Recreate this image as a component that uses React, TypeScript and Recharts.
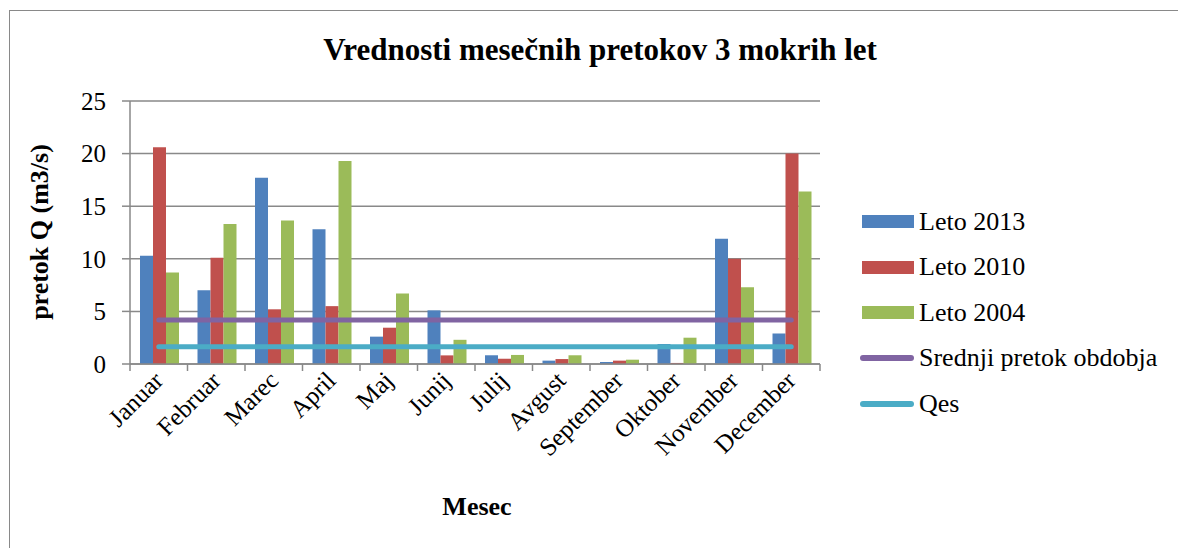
import React from "react";
import { ComposedChart, Bar, Line, XAxis, YAxis, CartesianGrid } from "recharts";

const months = ["Januar", "Februar", "Marec", "April", "Maj", "Junij", "Julij", "Avgust", "September", "Oktober", "November", "December"];
const leto2013 = [10.3, 7.0, 17.7, 12.8, 2.6, 5.1, 0.83, 0.32, 0.19, 1.9, 11.9, 2.9];
const leto2010 = [20.6, 10.1, 5.2, 5.5, 3.45, 0.82, 0.5, 0.47, 0.32, 0.1, 10.0, 20.0];
const leto2004 = [8.7, 13.3, 13.65, 19.3, 6.7, 2.3, 0.86, 0.83, 0.41, 2.5, 7.3, 16.4];
const srednjiPretok = 4.18;
const qes = 1.65;
const yTicks = [0, 5, 10, 15, 20, 25];

const seriesNames = ["Leto 2013", "Leto 2010", "Leto 2004", "Srednji pretok obdobja", "Qes"];
const seriesColors = ["#4F81BD", "#C0504D", "#9BBB59", "#8064A2", "#4BACC6"];
const seriesTypes = ["rect", "rect", "rect", "line", "line"];

const data = months.map((m, i) => ({
  month: m,
  l2013: leto2013[i],
  l2010: leto2010[i],
  l2004: leto2004[i],
  srednji: srednjiPretok,
  qes: qes,
}));

const FONT = '"Liberation Serif", "Times New Roman", serif';
const GRID = "#898989";

const XTick = (props: any) => {
  const { x, y, payload, index } = props;
  const off = payload.offset || 0;
  return (
    <g>
      <line x1={x - off} y1={y} x2={x - off} y2={y + 7} stroke={GRID} strokeWidth={1.5} />
      {index === months.length - 1 && (
        <line x1={x + off} y1={y} x2={x + off} y2={y + 7} stroke={GRID} strokeWidth={1.5} />
      )}
      <text
        x={x + 6}
        y={y + 18}
        transform={`rotate(-45 ${x + 6} ${y + 18})`}
        textAnchor="end"
        fontFamily={FONT}
        fontSize={25}
        fill="#000"
      >
        {payload.value}
      </text>
    </g>
  );
};

export default function App() {
  return (
    <div style={{ position: "absolute", left: 0, top: 0, width: 1178, height: 548, background: "#fff", overflow: "hidden" }}>
      <div style={{ position: "absolute", left: 9, top: 10, width: 1200, height: 600, borderLeft: `1.5px solid ${GRID}`, borderTop: `1.5px solid ${GRID}` }} />
      <div style={{ position: "absolute", left: 600, top: 32, transform: "translateX(-50%)", whiteSpace: "nowrap", fontFamily: FONT, fontWeight: "bold", fontSize: 31, lineHeight: "36px" }}>
        Vrednosti mesečnih pretokov 3 mokrih let
      </div>
      <ComposedChart
        width={1178}
        height={548}
        data={data}
        margin={{ top: 101, right: 358, bottom: 0, left: 70 }}
        barCategoryGap={10}
        barGap={0}
        style={{ position: "absolute", left: 0, top: 0 }}
      >
        <CartesianGrid vertical={false} stroke={GRID} strokeWidth={1.5} />
        <XAxis
          dataKey="month"
          interval={0}
          axisLine={{ stroke: GRID, strokeWidth: 1.5 }}
          tickLine={false}
          tickSize={0}
          tickMargin={0}
          tick={<XTick />}
          height={184}
        />
        <YAxis
          width={60}
          domain={[0, 25]}
          ticks={yTicks}
          interval={0}
          axisLine={{ stroke: GRID, strokeWidth: 1.5 }}
          tickLine={{ stroke: GRID, strokeWidth: 1.5 }}
          tickSize={8}
          tickMargin={16}
          tick={{ fontFamily: FONT, fontSize: 25, fill: "#000" }}
        />
        <Bar dataKey="l2013" name={seriesNames[0]} fill={seriesColors[0]} isAnimationActive={false} />
        <Bar dataKey="l2010" name={seriesNames[1]} fill={seriesColors[1]} isAnimationActive={false} />
        <Bar dataKey="l2004" name={seriesNames[2]} fill={seriesColors[2]} isAnimationActive={false} />
        <Line dataKey="srednji" name={seriesNames[3]} stroke={seriesColors[3]} strokeWidth={5} strokeLinecap="round" dot={false} activeDot={false} isAnimationActive={false} />
        <Line dataKey="qes" name={seriesNames[4]} stroke={seriesColors[4]} strokeWidth={5} strokeLinecap="round" dot={false} activeDot={false} isAnimationActive={false} />
      </ComposedChart>
      <div style={{ position: "absolute", left: 860, top: 199, fontFamily: FONT, fontSize: 26, color: "#000" }}>
        {seriesNames.map((name, i) => (
          <div key={name} style={{ display: "flex", alignItems: "center", height: 45.5 }}>
            {seriesTypes[i] === "line" ? (
              <div style={{ width: 54, height: 6, borderRadius: 3, background: seriesColors[i], marginRight: 5 }} />
            ) : (
              <div style={{ width: 52, height: 13, background: seriesColors[i], marginLeft: 2, marginRight: 5 }} />
            )}
            <span style={{ lineHeight: 1, whiteSpace: "nowrap" }}>{name}</span>
          </div>
        ))}
      </div>
      <div style={{ position: "absolute", left: 40, top: 232, transform: "translate(-50%, -50%) rotate(-90deg)", fontFamily: FONT, fontWeight: "bold", fontSize: 26, whiteSpace: "nowrap" }}>
        pretok Q (m3/s)
      </div>
      <div style={{ position: "absolute", left: 477, top: 507, transform: "translate(-50%, -50%)", fontFamily: FONT, fontWeight: "bold", fontSize: 26, whiteSpace: "nowrap" }}>
        Mesec
      </div>
    </div>
  );
}
